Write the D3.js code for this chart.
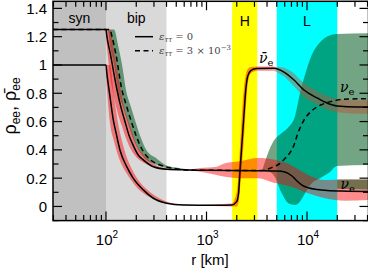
<!DOCTYPE html>
<html>
<head>
<meta charset="utf-8">
<script src="https://cdn.jsdelivr.net/npm/d3@7"></script>
<style>
body { margin: 0; background: #fff; }
text { font-family: "Liberation Sans", Arial, sans-serif; }
</style>
</head>
<body>
<div id="chart"></div>
<script>
let width = 368;
let height = 269;
let plot = {left: 53, right: 368.5, top: 1.3, bottom: 220.6};

// shaded regions along r [km]
let regionNames = ["syn", "bip", "H", "L"];
let regionFrom = [29.7, 100, 1800, 5000];
let regionTo = [100, 400, 3200, 20000];
let regionColors = ["#c0c0c0", "#d9d9d9", "#ffff00", "#00ffff"];
let regionLabelY = [22.5, 22.5, 26, 26];

// curves: [r, rho]
let nueSolid = [[29.7,1.25],[100,1.25],[101.6,1.212],[111,1.071],[128,0.832],[141,0.70],[155,0.597],[170,0.50],[187,0.43],[209,0.364],[235,0.329],[296,0.281],[402,0.263],[635,0.258],[1000,0.256],[3162,0.253],[5012,0.25],[6026,0.243],[7079,0.215],[7943,0.18],[8913,0.15],[10471,0.13],[12589,0.12],[15849,0.113],[25119,0.108],[41000,0.105]];
let nuebarSolid = [[29.7,1.0],[100,1.0],[101.6,0.953],[109.6,0.776],[118.3,0.611],[126,0.52],[137.7,0.399],[160.7,0.281],[187,0.199],[235,0.117],[296,0.058],[402,0.023],[587,0.011],[1259,0.008],[1778,0.01],[1995,0.034],[2089,0.10],[2153,0.25],[2239,0.42],[2344,0.62],[2455,0.82],[2570,0.92],[2754,0.96],[3162,0.975],[4677,0.977],[5900,0.95],[7430,0.894],[9333,0.823],[12589,0.767],[15800,0.731],[19900,0.710],[31500,0.703],[41000,0.703]];
let nueDashed = [[29.7,1.25],[109.6,1.25],[114.8,1.2],[125.9,1.071],[143.2,0.832],[158.5,0.72],[177.8,0.605],[199.5,0.50],[223.9,0.415],[251.2,0.36],[281.8,0.325],[344.4,0.293],[464.5,0.27],[635,0.258],[1000,0.256],[3548,0.254],[4285,0.27],[5383,0.305],[6281,0.352],[7047,0.40],[7430,0.435],[7998,0.505],[9333,0.611],[10889,0.67],[13677,0.717],[17219,0.741],[23335,0.758],[41000,0.762]];

// spread bands: [r, low, high]
let bandNue0 = [[100,1.2,1.25],[109.6,0.93,1.25],[120.2,0.77,1.1],[131.8,0.65,0.93],[144.5,0.565,0.77],[158.5,0.48,0.65],[177.8,0.40,0.55],[199.5,0.35,0.44],[223.9,0.32,0.385],[251.2,0.30,0.345],[316.2,0.272,0.29],[398.1,0.262,0.27],[631,0.257,0.259],[861,0.246,0.272],[1259,0.223,0.281],[1528,0.21,0.305],[2153,0.2,0.32],[3251,0.2,0.343],[4786,0.165,0.33],[6026,0.15,0.31],[7015,0.14,0.29],[10233,0.093,0.223],[15136,0.058,0.187],[23878,0.04,0.19],[41000,0.045,0.19]];
let bandNuebar0 = [[100,0.92,1.0],[109.6,0.59,1.0],[120.2,0.46,0.776],[131.8,0.36,0.59],[144.5,0.29,0.46],[158.5,0.24,0.36],[177.8,0.185,0.275],[199.5,0.14,0.21],[223.9,0.105,0.16],[251.2,0.08,0.125],[316.2,0.045,0.07],[398.1,0.02,0.035],[562.3,0.01,0.015],[794.3,0.008,0.01],[1778,0.0,0.02],[1995,0.0,0.1],[2089,0.03,0.25],[2153,0.12,0.42],[2239,0.27,0.62],[2344,0.45,0.82],[2455,0.68,0.93],[2570,0.86,0.97],[2754,0.94,0.985],[3162,0.96,0.99],[4677,0.96,0.99]];
let bandNuebarLate = [[4677,0.96,0.99],[5888,0.92,0.98],[7413,0.85,0.94],[9333,0.775,0.87],[12589,0.72,0.815],[15849,0.685,0.78],[19953,0.665,0.76],[31623,0.655,0.75],[41000,0.655,0.75]];
let bandNue3Bip = [[105,1.25,1.25],[109.6,1.14,1.25],[120.2,1.0,1.25],[131.8,0.82,1.14],[144.5,0.72,1.0],[158.5,0.63,0.82],[177.8,0.52,0.70],[199.5,0.43,0.585],[223.9,0.37,0.48],[251.2,0.33,0.40],[316.2,0.295,0.34],[398.1,0.272,0.29],[501.2,0.262,0.275],[707.9,0.257,0.259]];
let bandNue3Late = [[3600,0.255,0.26],[4285,0.244,0.413],[4786,0.208,0.475],[5610,0.093,0.52],[6531,0.023,0.56],[7603,0.011,0.64],[8511,0.034,0.80],[9550,0.093,0.93],[11143,0.164,1.07],[13459,0.2,1.16],[16943,0.244,1.21],[19861,0.286,1.219],[41000,0.293,1.224]];
let bandNue3Low = [[19953,0.125,0.19],[41000,0.12,0.19]];

// axis ticks and labels
let yMajor = [0, 0.2, 0.4, 0.6, 0.8, 1, 1.2, 1.4];
let yMinor = [-0.1, 0.1, 0.3, 0.5, 0.7, 0.9, 1.1, 1.3];
let xMajor = [100, 1000, 10000];
let xExponents = ["2", "3", "4"];
let xMinor = [30,40,50,60,70,80,90,200,300,400,500,600,700,800,900,2000,3000,4000,5000,6000,7000,8000,9000,20000,30000,40000];

// curve labels: [r, rho, bar?]
let curveLabels = [[3327, 1.014, true], [21300, 0.809, false], [21500, 0.124, false]];

let svg = d3.select("#chart")
	.append("svg")
	.attr("width", width).attr("height", height);

let x = d3.scaleLog().domain([29.7, 40900]).range([plot.left, plot.right]);
let y = d3.scaleLinear().domain([-0.1, 1.45]).range([plot.bottom, plot.top]);

svg.append("clipPath").attr("id", "clip")
	.append("rect")
	.attr("x", plot.left).attr("y", plot.top)
	.attr("width", plot.right - plot.left).attr("height", plot.bottom - plot.top);

let inner = svg.append("g").attr("clip-path", "url(#clip)");

// backgrounds
inner.selectAll(".region").data(regionNames)
	.join("rect")
	.attr("class", "region")
	.attr("x", (d, i) => x(regionFrom[i]))
	.attr("width", (d, i) => x(regionTo[i]) - x(regionFrom[i]))
	.attr("y", plot.top).attr("height", plot.bottom - plot.top)
	.attr("fill", (d, i) => regionColors[i]);

let area = d3.area()
	.x(d => x(d[0])).y0(d => y(d[1])).y1(d => y(d[2]))
	.curve(d3.curveMonotoneX);
let line = d3.line()
	.x(d => x(d[0])).y(d => y(d[1]))
	.curve(d3.curveMonotoneX);

let green = "rgb(0,90,30)";
let red = "rgb(255,0,0)";

inner.append("path").attr("d", area(bandNue3Late)).attr("fill", green).attr("fill-opacity", 0.55);
inner.append("path").attr("d", area(bandNue3Bip)).attr("fill", green).attr("fill-opacity", 0.55);
inner.append("path").attr("d", area(bandNue0)).attr("fill", red).attr("fill-opacity", 0.45);
inner.append("path").attr("d", area(bandNuebar0)).attr("fill", red).attr("fill-opacity", 0.45);
inner.append("path").attr("d", area(bandNuebarLate)).attr("fill", "rgb(190,80,50)").attr("fill-opacity", 0.45);
inner.append("path").attr("d", area(bandNue3Low)).attr("fill", green).attr("fill-opacity", 0.55);

inner.append("path").attr("d", line(nueDashed))
	.attr("fill", "none").attr("stroke", "#000").attr("stroke-width", 1.5)
	.attr("stroke-dasharray", "5,3.5");
inner.append("path").attr("d", line(nueSolid))
	.attr("fill", "none").attr("stroke", "#000").attr("stroke-width", 1.5);
inner.append("path").attr("d", line(nuebarSolid))
	.attr("fill", "none").attr("stroke", "#000").attr("stroke-width", 1.5);

// region labels
svg.selectAll(".region-label").data(regionNames)
	.join("text")
	.attr("class", "region-label")
	.attr("x", (d, i) => x(Math.sqrt(regionFrom[i] * regionTo[i])))
	.attr("y", (d, i) => regionLabelY[i])
	.attr("text-anchor", "middle")
	.attr("font-size", 14)
	.text(d => d);

// curve labels
let cl = svg.selectAll(".curve-label").data(curveLabels)
	.join("text")
	.attr("class", "curve-label")
	.attr("x", d => x(d[0])).attr("y", d => y(d[1]))
	.attr("font-size", 14)
	.style("font-family", "'DejaVu Serif', serif");
cl.append("tspan").attr("font-style", "italic").text(d => d[2] ? "\u03bd\u0304" : "\u03bd");
cl.append("tspan").attr("font-size", 10).attr("dy", 3).text("e");

// legend
let legend = svg.append("g");
legend.append("line").attr("x1", 135).attr("x2", 153).attr("y1", 36.7).attr("y2", 36.7)
	.attr("stroke", "#000").attr("stroke-width", 1.5);
legend.append("line").attr("x1", 135).attr("x2", 153).attr("y1", 50.7).attr("y2", 50.7)
	.attr("stroke", "#000").attr("stroke-width", 1.5).attr("stroke-dasharray", "5,3.5");
let legendText = [["0", null], ["3 \u00d7 10", "\u22123"]];
legendText.forEach((t, i) => {
	let tx = legend.append("text").attr("x", 159).attr("y", 40 + i * 14)
		.attr("font-size", 10).attr("fill", "#444")
		.style("font-family", "'DejaVu Serif', serif");
	tx.append("tspan").attr("font-style", "italic").text("\u03b5");
	tx.append("tspan").attr("font-style", "italic").attr("font-size", 7).attr("dy", 2).text("\u03c4\u03c4");
	tx.append("tspan").attr("dy", -2).text(" = " + t[0]);
	if (t[1]) tx.append("tspan").attr("font-size", 7).attr("dy", -4).text(t[1]);
});

// axes: inward ticks on all four sides
let tickG = svg.append("g").attr("stroke", "#000");
function xTicks(vals, len) {
	vals.forEach(v => {
		tickG.append("line").attr("x1", x(v)).attr("x2", x(v))
			.attr("y1", plot.bottom).attr("y2", plot.bottom - len).attr("stroke-width", 1.2);
		tickG.append("line").attr("x1", x(v)).attr("x2", x(v))
			.attr("y1", plot.top).attr("y2", plot.top + len).attr("stroke-width", 1.2);
	});
}
function yTicks(vals, len) {
	vals.forEach(v => {
		tickG.append("line").attr("y1", y(v)).attr("y2", y(v))
			.attr("x1", plot.left).attr("x2", plot.left + len).attr("stroke-width", 1.2);
		tickG.append("line").attr("y1", y(v)).attr("y2", y(v))
			.attr("x1", plot.right).attr("x2", plot.right - len).attr("stroke-width", 1.2);
	});
}
xTicks(xMajor, 9);
xTicks(xMinor, 5.5);
yTicks(yMajor, 9);
yTicks(yMinor, 5.5);

svg.append("rect")
	.attr("x", plot.left).attr("y", plot.top)
	.attr("width", plot.right - plot.left).attr("height", plot.bottom - plot.top)
	.attr("fill", "none").attr("stroke", "#000").attr("stroke-width", 1.5);

svg.selectAll(".ylab").data(yMajor)
	.join("text")
	.attr("class", "ylab")
	.attr("x", 47).attr("y", d => y(d)).attr("dy", "0.36em")
	.attr("text-anchor", "end").attr("font-size", 15)
	.text(d => d3.format("~g")(d));

let xl = svg.selectAll(".xlab").data(xMajor)
	.join("text")
	.attr("class", "xlab")
	.attr("x", d => x(d) + 1).attr("y", 245)
	.attr("text-anchor", "middle").attr("font-size", 15);
xl.append("tspan").text("10");
xl.append("tspan").attr("font-size", 10).attr("dy", -7).text((d, i) => xExponents[i]);

svg.append("text").attr("x", 210).attr("y", 265)
	.attr("text-anchor", "middle").attr("font-size", 15)
	.text("r [km]");

let ylab = svg.append("text")
	.attr("transform", "translate(16,106) rotate(-90)")
	.attr("text-anchor", "middle").attr("font-size", 18);
ylab.append("tspan").text("\u03c1");
ylab.append("tspan").attr("font-size", 12).attr("dy", 4).text("ee");
ylab.append("tspan").attr("dy", -4).text(", \u03c1\u0304");
ylab.append("tspan").attr("font-size", 12).attr("dy", 4).text("ee");
</script>
</body>
</html>
